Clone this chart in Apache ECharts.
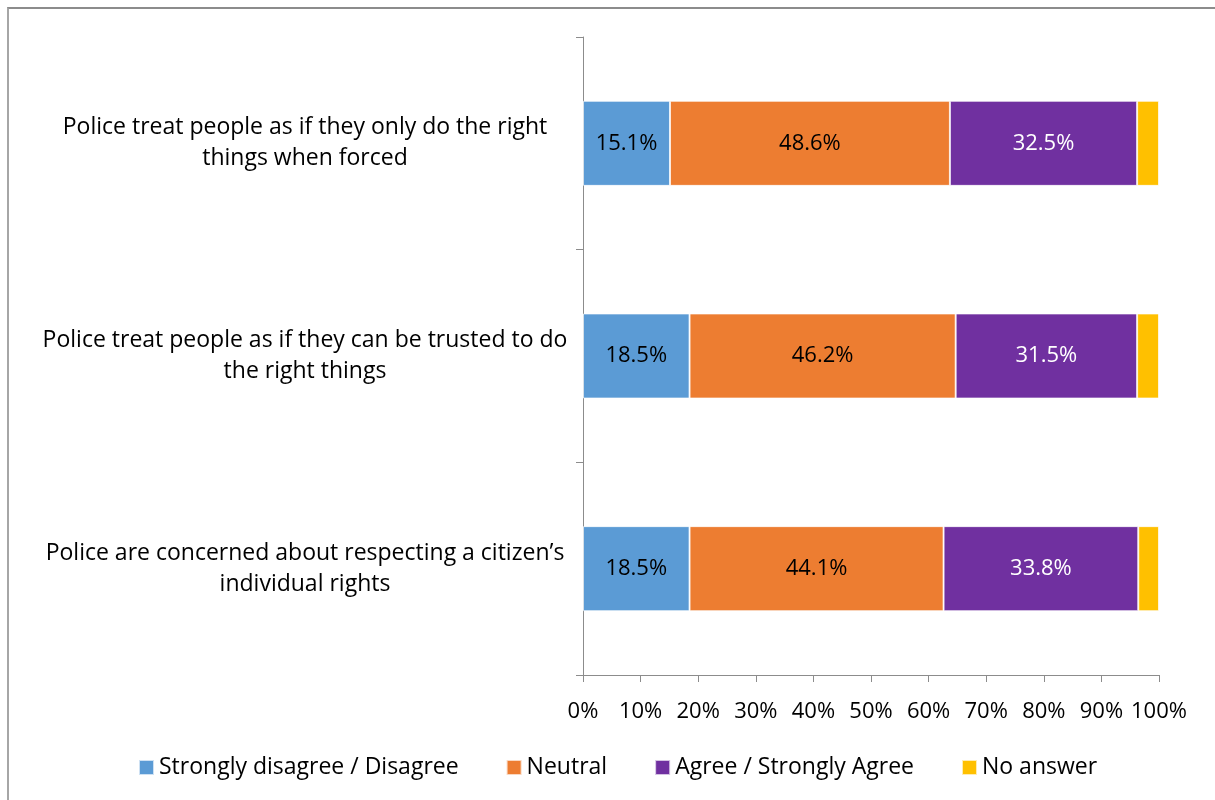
<!DOCTYPE html>
<html>
<head>
<meta charset="utf-8">
<script src="https://cdn.jsdelivr.net/npm/echarts@6/dist/echarts.min.js"></script>
<style>
html,body{margin:0;padding:0;background:#fff;overflow:hidden;}
#chart{position:absolute;left:0;top:0;width:1215px;height:800px;}
#frame{position:absolute;left:7px;top:7px;width:1400px;height:1000px;border-top:2px solid #8c8c8c;border-left:2px solid #a6a6a6;pointer-events:none;}
</style>
</head>
<body>
<div id="chart"></div>
<div id="frame"></div>
<script>
const categories = [
  'Police treat people as if they only do the right\nthings when forced',
  'Police treat people as if they can be trusted to do\nthe right things',
  'Police are concerned about respecting a citizen\u2019s\nindividual rights'
];
const seriesNames = ['Strongly disagree / Disagree', 'Neutral', 'Agree / Strongly Agree', 'No answer'];
const disagree = [15.1, 18.5, 18.5];
const neutral = [48.6, 46.2, 44.1];
const agree = [32.5, 31.5, 33.8];
const noAnswer = [3.8, 3.8, 3.6];
const xTicks = [0, 10, 20, 30, 40, 50, 60, 70, 80, 90, 100];

const colors = ['#5B9BD5', '#ED7D31', '#7030A0', '#FFC000'];
const labelColors = ['#000', '#000', '#fff', null];
const FONT = '"Open Sans", sans-serif';
const values = [disagree, neutral, agree, noAnswer];

const chart = echarts.init(document.getElementById('chart'), null, {renderer: 'canvas'});
chart.setOption({
  animation: false,
  textStyle: {fontFamily: FONT},
  grid: {left: 583, right: 56, top: 37, bottom: 125, containLabel: false, outerBoundsMode: 'none'},
  legend: {
    left: 133, top: 751,
    itemWidth: 15, itemHeight: 15, itemGap: 47,
    icon: 'rect',
    textStyle: {fontFamily: FONT, fontSize: 23, color: '#000'},
    data: seriesNames
  },
  xAxis: {
    type: 'value', min: xTicks[0], max: xTicks[xTicks.length - 1], interval: 10,
    axisLine: {show: true, lineStyle: {color: '#8c8c8c', width: 1}},
    axisTick: {show: true, length: 7, lineStyle: {color: '#8c8c8c'}},
    splitLine: {show: false},
    axisLabel: {formatter: '{value}%', fontFamily: FONT, fontSize: 22, color: '#000', margin: 26, hideOverlap: false}
  },
  yAxis: {
    type: 'category', inverse: true,
    data: categories,
    axisLine: {show: true, lineStyle: {color: '#8c8c8c', width: 1}},
    axisTick: {show: true, length: 7, lineStyle: {color: '#8c8c8c'}},
    axisLabel: {fontFamily: FONT, fontSize: 23, color: '#000', align: 'center', margin: 278, lineHeight: 31}
  },
  series: seriesNames.map((name, i) => ({
    name: name,
    type: 'bar',
    stack: 'total',
    barWidth: '40%',
    data: values[i],
    itemStyle: {color: colors[i], borderColor: 'rgba(255,255,255,0.7)', borderWidth: 1},
    label: {
      show: labelColors[i] !== null,
      position: 'inside',
      fontFamily: FONT, fontSize: 22,
      color: labelColors[i] || '#000',
      formatter: p => p.value.toFixed(1) + '%'
    }
  }))
});
</script>
</body>
</html>
